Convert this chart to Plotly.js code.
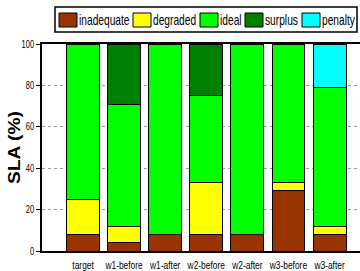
<!DOCTYPE html>
<html>
<head>
<meta charset="utf-8">
<script src="https://cdn.plot.ly/plotly-3.0.1.min.js"></script>
<style>html,body{margin:0;padding:0;background:#fff;}#chart{width:360px;height:271px;}</style>
</head>
<body>
<div id="chart"></div>
<script>
const categories = ["target", "w1-before", "w1-after", "w2-before", "w2-after", "w3-before", "w3-after"];
const seriesNames = ["inadequate", "degraded", "ideal", "surplus", "penalty"];
const inadequate = [8, 4, 8, 8, 8, 29, 8];
const degraded   = [17, 8, 0, 25, 0, 4, 4];
const ideal      = [75, 59, 92, 42, 92, 67, 67];
const surplus    = [0, 29, 0, 25, 0, 0, 0];
const penalty    = [0, 0, 0, 0, 0, 0, 21];
const colors = ["#993300", "#FFFF00", "#00FF00", "#008000", "#00FFFF"];
const yTicks = [0, 20, 40, 60, 80, 100];

// plot-area geometry in pixels (layout only)
const L = 42, R = 360, T = 44, B = 251;
const px = v => (v - L) / (R - L);
const py = v => (B - v) / (B - T);

const font = "Liberation Sans, Arial, sans-serif";
const allSeries = [inadequate, degraded, ideal, surplus, penalty];
const traces = allSeries.map((vals, i) => ({
  type: "bar",
  name: seriesNames[i],
  x: categories.map((c, k) => k),
  y: vals,
  marker: {color: colors[i], line: {color: "#000", width: 1}},
  hoverinfo: "skip",
  showlegend: false
}));

// hand-built legend box (layout positions)
const swatchLeft = [59, 133, 200, 245, 302];
const shapes = [{
  type: "rect", xref: "paper", yref: "paper",
  x0: px(55), x1: px(357), y0: py(32), y1: py(7),
  line: {color: "#000", width: 1.5}, fillcolor: "rgba(0,0,0,0)"
}];
const annotations = [];
seriesNames.forEach((name, i) => {
  shapes.push({
    type: "rect", xref: "paper", yref: "paper",
    x0: px(swatchLeft[i]), x1: px(swatchLeft[i] + 18), y0: py(27), y1: py(13),
    line: {color: "#000", width: 1}, fillcolor: colors[i]
  });
  annotations.push({
    xref: "paper", yref: "paper", x: px(swatchLeft[i] + 18), y: py(20.5),
    xanchor: "left", yanchor: "middle", showarrow: false,
    text: name, font: {family: font, size: 14, color: "#000"}
  });
});

const layout = {
  width: 360, height: 271,
  margin: {l: L, r: 360 - R, t: T, b: 271 - B},
  paper_bgcolor: "#fff", plot_bgcolor: "#fff",
  barmode: "stack",
  bargap: 0.2,
  showlegend: false,
  shapes: shapes,
  annotations: annotations,
  xaxis: {
    range: [-1, 6.74],
    tickmode: "array",
    tickvals: categories.map((c, k) => k),
    ticktext: categories,
    tickangle: 0,
    ticks: "",
    showgrid: false,
    showline: true, linecolor: "#000", linewidth: 2,
    mirror: true,
    zeroline: false,
    ticklabelstandoff: 3,
    tickfont: {family: font, size: 10.5, color: "#000"},
    fixedrange: true
  },
  yaxis: {
    range: [0, 100],
    tickmode: "array",
    tickvals: yTicks,
    ticktext: yTicks.map(String),
    ticks: "outside", ticklen: 4, tickcolor: "#000", tickwidth: 1,
    showgrid: true, gridcolor: "#999", griddash: "dot", gridwidth: 1,
    showline: true, linecolor: "#000", linewidth: 2,
    zeroline: false,
    tickfont: {family: font, size: 10, color: "#000"},
    title: {text: "<b>SLA (%)</b>", font: {family: font, size: 16, color: "#000"}, standoff: 3},
    fixedrange: true
  }
};

function squeeze(sel, s, anchor, pre) {
  document.querySelectorAll(sel).forEach(el => {
    const bb = el.getBBox();
    const cx = anchor === "left" ? bb.x : anchor === "right" ? bb.x + bb.width : bb.x + bb.width / 2;
    const t = el.getAttribute("transform") || "";
    el.setAttribute("transform", (pre || "") + " " + t + ` translate(${cx},0) scale(${s},1) translate(${-cx},0)`);
  });
}

Plotly.newPlot("chart", traces, layout, {displayModeBar: false, staticPlot: true}).then(() => {
  squeeze(".xtick text", 0.8, "center");
  squeeze(".ytick text", 0.75, "right");
  squeeze(".annotation-text", 0.73, "left");
  squeeze(".g-ytitle text", 1.2, "center", "translate(6,0)");
});
</script>
</body>
</html>
